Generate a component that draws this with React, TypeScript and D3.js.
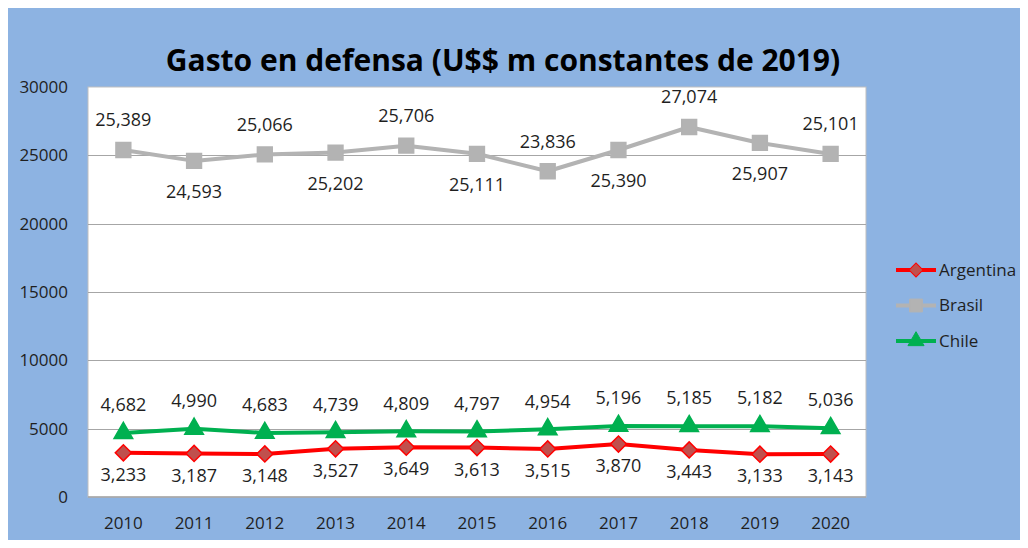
import { useEffect, useRef } from "react";
import * as d3 from "d3";

const years = ["2010", "2011", "2012", "2013", "2014", "2015", "2016", "2017", "2018", "2019", "2020"];
const argentina = [3233, 3187, 3148, 3527, 3649, 3613, 3515, 3870, 3443, 3133, 3143];
const brasil = [25389, 24593, 25066, 25202, 25706, 25111, 23836, 25390, 27074, 25907, 25101];
const chile = [4682, 4990, 4683, 4739, 4809, 4797, 4954, 5196, 5185, 5182, 5036];
const yTicks = [0, 5000, 10000, 15000, 20000, 25000, 30000];

const W = 1028;
const H = 548;
const FONT = "'Open Sans', Calibri, sans-serif";

export default function App() {
  const ref = useRef<SVGSVGElement>(null);

  useEffect(() => {
    const svg = d3.select(ref.current);
    svg.selectAll("*").remove();

    // fondo del gráfico
    svg
      .append("rect")
      .attr("x", 6.5)
      .attr("y", 3.5)
      .attr("width", 1015)
      .attr("height", 543)
      .attr("fill", "#8db3e2")
      .attr("stroke", "#868686")
      .attr("stroke-width", 1.5);

    const plot = { left: 88, right: 866, top: 87, bottom: 497 };

    const x = d3
      .scaleBand()
      .domain(years)
      .range([plot.left, plot.right]);
    const cx = (y: string) => (x(y) || 0) + x.bandwidth() / 2;

    const y = d3.scaleLinear().domain([0, 30000]).range([plot.bottom, plot.top]);

    svg
      .append("rect")
      .attr("x", plot.left)
      .attr("y", plot.top)
      .attr("width", plot.right - plot.left)
      .attr("height", plot.bottom - plot.top)
      .attr("fill", "#ffffff")
      .attr("stroke", "#bfbfbf")
      .attr("stroke-width", 1);

    // líneas de cuadrícula
    svg
      .append("g")
      .selectAll("line")
      .data(yTicks.slice(1, -1))
      .enter()
      .append("line")
      .attr("x1", plot.left)
      .attr("x2", plot.right)
      .attr("y1", (d) => Math.round(y(d)) + 0.5)
      .attr("y2", (d) => Math.round(y(d)) + 0.5)
      .attr("stroke", "#a6a6a6")
      .attr("stroke-width", 1);

    svg
      .append("line")
      .attr("x1", plot.left)
      .attr("x2", plot.right)
      .attr("y1", plot.bottom)
      .attr("y2", plot.bottom)
      .attr("stroke", "#a6a6a6")
      .attr("stroke-width", 1.5);

    // eje Y
    svg
      .append("g")
      .selectAll("text")
      .data(yTicks)
      .enter()
      .append("text")
      .attr("x", 68)
      .attr("y", (d) => y(d))
      .attr("dy", "0.35em")
      .attr("text-anchor", "end")
      .attr("font-family", FONT)
      .attr("font-size", 17)
      .attr("fill", "#1f1f1f")
      .text((d) => String(d));

    // eje X
    svg
      .append("g")
      .selectAll("text")
      .data(years)
      .enter()
      .append("text")
      .attr("x", (d) => cx(d))
      .attr("y", 523)
      .attr("dy", "0.35em")
      .attr("text-anchor", "middle")
      .attr("font-family", FONT)
      .attr("font-size", 17)
      .attr("fill", "#1f1f1f")
      .text((d) => d);

    // título
    svg
      .append("text")
      .attr("x", 503)
      .attr("y", 60)
      .attr("dy", "0.35em")
      .attr("text-anchor", "middle")
      .attr("font-family", FONT)
      .attr("font-weight", "bold")
      .attr("font-size", 30)
      .attr("fill", "#000")
      .text("Gasto en defensa (U$$ m constantes de 2019)");

    const fmt = d3.format(",");
    const series = [
      { name: "Argentina", values: argentina, line: "#ff0000", fill: "#c0504d", shape: d3.symbolSquare, size: 130, rot: 45, label: () => 22 },
      { name: "Brasil", values: brasil, line: "#b3b3b3", fill: "#b3b3b3", shape: d3.symbolSquare, size: 220, rot: 0, label: (i: number) => (i % 2 === 0 ? -30 : 31) },
      { name: "Chile", values: chile, line: "#00b050", fill: "#00b050", shape: d3.symbolTriangle, size: 150, rot: 0, label: () => -28 },
    ];

    const line = d3
      .line<number>()
      .x((_, i) => cx(years[i]))
      .y((d) => y(d));

    series.forEach((s) => {
      const g = svg.append("g");
      g.append("path")
        .attr("d", line(s.values) || "")
        .attr("fill", "none")
        .attr("stroke", s.line)
        .attr("stroke-width", 4)
        .attr("stroke-linejoin", "round");

      g.selectAll("path.m")
        .data(s.values)
        .enter()
        .append("path")
        .attr("class", "m")
        .attr("d", d3.symbol(s.shape, s.size)() || "")
        .attr("transform", (d, i) => `translate(${cx(years[i])},${y(d)}) rotate(${s.rot})`)
        .attr("fill", s.fill)
        .attr("stroke", s.line)
        .attr("stroke-width", 1.5);

      g.selectAll("text")
        .data(s.values)
        .enter()
        .append("text")
        .attr("x", (d, i) => cx(years[i]))
        .attr("y", (d, i) => y(d) + s.label(i))
        .attr("dy", "0.35em")
        .attr("text-anchor", "middle")
        .attr("font-family", FONT)
        .attr("font-size", 18)
        .attr("fill", "#1f1f1f")
        .text((d) => fmt(d));
    });

    // leyenda
    const legend = svg.append("g");
    series.forEach((s, i) => {
      const ly = 270 + i * 35.5;
      legend
        .append("line")
        .attr("x1", 896)
        .attr("x2", 936)
        .attr("y1", ly)
        .attr("y2", ly)
        .attr("stroke", s.line)
        .attr("stroke-width", 4);
      legend
        .append("path")
        .attr("d", d3.symbol(s.shape, s.size * 0.75)() || "")
        .attr("transform", `translate(916,${ly}) rotate(${s.rot})`)
        .attr("fill", s.fill)
        .attr("stroke", s.line)
        .attr("stroke-width", 1);
      legend
        .append("text")
        .attr("x", 939)
        .attr("y", ly)
        .attr("dy", "0.35em")
        .attr("font-family", FONT)
        .attr("font-size", 17)
        .attr("fill", "#1f1f1f")
        .text(s.name);
    });
  }, []);

  return (
    <div style={{ margin: -8 }}>
      <svg ref={ref} width={W} height={H} style={{ display: "block" }} />
    </div>
  );
}
